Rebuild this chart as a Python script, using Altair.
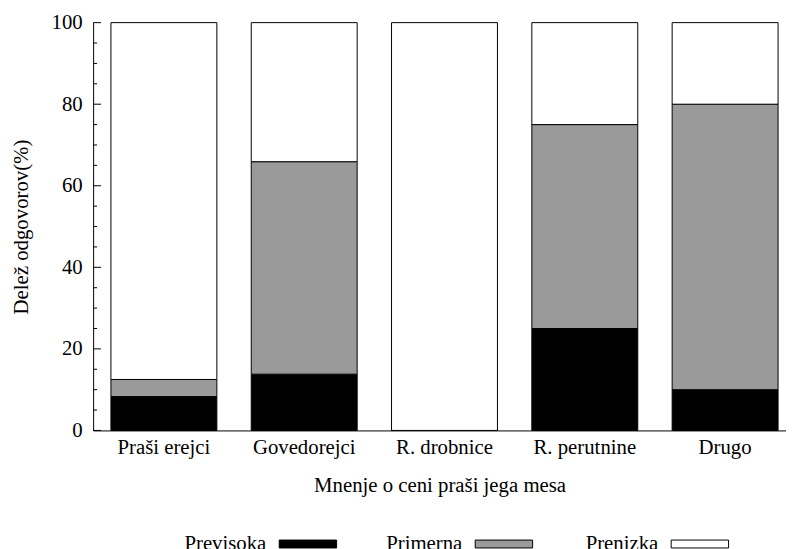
import altair as alt
import pandas as pd

categories = ["Praši erejci", "Govedorejci", "R. drobnice", "R. perutnine", "Drugo"]
series = ["Previsoka", "Primerna", "Prenizka"]
previsoka = [8.3, 13.8, 0, 25, 10]
primerna = [4.2, 52.1, 0, 50, 70]
prenizka = [87.5, 34.1, 100, 25, 20]
colors = ["#000000", "#9a9a9a", "#ffffff"]
major_ticks = [0, 20, 40, 60, 80, 100]
minor_ticks = [5, 10, 15, 25, 30, 35, 45, 50, 55, 65, 70, 75, 85, 90, 95]

rows = []
for i, c in enumerate(categories):
    for k, (s, vals) in enumerate(zip(series, [previsoka, primerna, prenizka])):
        rows.append({"cat": c, "series": s, "value": vals[i], "order": k})
df = pd.DataFrame(rows)

FONT = "Liberation Serif"
FS = 21
YTITLE = "Delež odgovorov(%)"

bars = alt.Chart(df).mark_bar(stroke="black", strokeWidth=1).encode(
    x=alt.X(
        "cat:N",
        sort=categories,
        scale=alt.Scale(paddingInner=0.245, paddingOuter=0.0917, align=0.692),
        axis=alt.Axis(
            title="Mnenje o ceni praši jega mesa",
            labelAngle=0,
            ticks=False,
            labelPadding=6,
            titleY=62,
            titleBaseline="alphabetic",
        ),
    ),
    y=alt.Y(
        "value:Q",
        stack="zero",
        title=YTITLE,
        scale=alt.Scale(domain=[0, 100], nice=False),
        axis=alt.Axis(
            values=major_ticks,
            ticks=False,
            grid=False,
            labelPadding=11,
            titleX=-72,
            titleY=206,
            titleAngle=-90,
            titleBaseline="middle",
            titleAlign="center",
        ),
    ),
    color=alt.Color(
        "series:N",
        sort=series,
        scale=alt.Scale(domain=series, range=colors),
        legend=alt.Legend(
            title=None,
            orient="none",
            legendX=154,
            legendY=516,
            direction="horizontal",
            symbolType="M23.5,-4L81.5,-4L81.5,4L23.5,4Z",
            symbolSize=4,
            symbolStrokeColor="black",
            symbolStrokeWidth=1,
            symbolOpacity=1,
            labelAlign="right",
            labelOffset=0,
            labelFont=FONT,
            labelFontSize=FS,
            labelColor="black",
            labelLimit=0,
            gridAlign="all",
            columnPadding=48,
        ),
    ),
    order=alt.Order("order:Q"),
)

major = alt.Chart(pd.DataFrame({"value": major_ticks})).mark_rule(
    color="black", strokeWidth=1
).encode(y=alt.Y("value:Q", title=YTITLE), x=alt.value(0), x2=alt.value(8))

minor = alt.Chart(pd.DataFrame({"value": minor_ticks})).mark_rule(
    color="black", strokeWidth=1
).encode(y=alt.Y("value:Q", title=YTITLE), x=alt.value(0), x2=alt.value(4))

chart = (
    alt.layer(bars, major, minor)
    .properties(
        width=700,
        height=412,
        autosize=alt.AutoSizeParams(type="none"),
        padding={"left": 86, "top": 12, "right": 0, "bottom": 117},
    )
    .configure_view(stroke=None)
    .configure_axis(
        labelFont=FONT,
        labelFontSize=FS,
        labelColor="black",
        titleFont=FONT,
        titleFontSize=FS,
        titleColor="black",
        titleFontWeight="normal",
        domainColor="black",
        domainWidth=1,
    )
)

chart.save("out.html", embed_options={"renderer": "svg", "actions": False})
